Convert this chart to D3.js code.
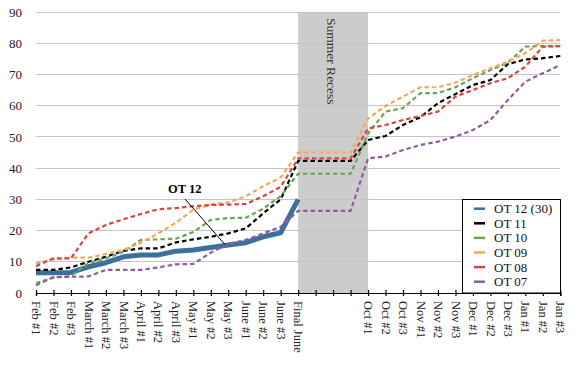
<!DOCTYPE html>
<html>
<head>
<meta charset="utf-8">
<script src="https://cdn.jsdelivr.net/npm/d3@7/dist/d3.min.js"></script>
<style>
  html, body { margin: 0; padding: 0; background: #fff; }
  svg { display: block; font-family: "Liberation Serif", "Times New Roman", serif; }
</style>
</head>
<body>
<svg id="chart" width="580" height="370"></svg>
<script>
// ---- data ----
const categories = ["Feb #1","Feb #2","Feb #3","March #1","March #2","March #3",
  "April #1","April #2","April #3","May #1","May #2","May #3",
  "June #1","June #2","June #3","Final June","","","",
  "Oct #1","Oct #2","Oct #3","Nov #1","Nov #2","Nov #3",
  "Dec #1","Dec #2","Dec #3","Jan #1","Jan #2","Jan #3"];

const ot12 = [6.5,6.5,6.6,8.4,9.7,11.6,12.2,12.2,13.4,13.8,14.6,15.4,16.1,18,19.3,30];
const ot11 = [7.4,7.4,8.2,10,11.6,13.5,14.3,14.3,16.2,17.2,18,19.1,20.7,25.5,30,42.3,42.3,42.3,42.3,
  49,50.3,53.8,56.3,60.8,63.7,66.6,68.2,73.3,74.8,75.2,75.9];
const ot10 = [3.2,4.9,5.4,9.6,11.1,13.2,17,17.2,17.4,19.5,23.4,24,24.1,27,31,38.2,38.2,38.2,38.2,
  51.1,58.1,59.2,64,64,65.9,68.8,71.4,73.8,78.9,79.1,79.1];
const ot09 = [9.5,10.8,11.3,11.3,12.5,13.8,16.1,19.1,22.5,26.7,28.3,29,31,34.2,37,45,45,45,45,
  55.9,59.9,62.9,65.9,65.9,67.4,69.8,72,74.1,76.8,80.8,81];
const ot08 = [8.6,11.1,11.1,19.1,21.8,23.6,25.3,26.8,27.2,27.8,28.2,28.3,28.5,31,34,43.1,43.1,43.1,43.1,
  52.7,53.8,55.4,56.7,58.1,62.9,65,67.2,68.8,72.5,78.9,79.1];
const ot07 = [2.5,5.1,5.2,5.3,7.4,7.4,7.4,8.2,9.2,9.3,12.9,15.7,17,19.1,21.2,26.3,26.3,26.3,26.3,
  43.1,43.7,45.8,47.4,48.5,50.1,52.2,55.4,61.8,67.7,70.4,73];

const seriesNames = ["OT 12 (30)","OT 11","OT 10","OT 09","OT 08","OT 07"];
const seriesColors = ["#3d6f9e","#000000","#6aa457","#f5a857","#d94443","#8c5e9c"];
const yTicks = [0,10,20,30,40,50,60,70,80,90];
const recessStart = "Final June", recessEnd = "Oct #1", recessValue = 90;
const recessLabel = "Summer Recess";
const annotationText = "OT 12", annotationIndex = 11;

// ---- layout ----
const svg = d3.select("#chart");
const plotLeft = 36, plotRight = 560.3, plotTop = 12, plotBottom = 293;

const x = d3.scalePoint().domain(d3.range(categories.length)).range([plotLeft, plotRight]);
const y = d3.scaleLinear().domain([0, 90]).range([plotBottom, plotTop]);

// summer recess band
const i0 = categories.indexOf(recessStart), i1 = categories.indexOf(recessEnd);
svg.append("rect")
  .attr("x", x(i0)).attr("y", y(recessValue))
  .attr("width", x(i1) - x(i0)).attr("height", y(0) - y(recessValue))
  .attr("fill", "#cccccc");

// gridlines
svg.append("g").selectAll("line").data(yTicks.filter(d => d > 0)).join("line")
  .attr("x1", plotLeft).attr("x2", plotRight)
  .attr("y1", d => y(d)).attr("y2", d => y(d))
  .attr("stroke", "#c4c4c4").attr("stroke-width", 1).attr("shape-rendering", "crispEdges");

// recess label
svg.append("text")
  .attr("transform", `translate(${(x(i0) + x(i1)) / 2 - 1},${y(recessValue) + 6}) rotate(90)`)
  .attr("dy", "0.35em")
  .attr("font-size", 13.5).attr("fill", "#333")
  .text(recessLabel);

// y axis labels
const yAxis = d3.axisLeft(y).tickValues(yTicks).tickSize(0).tickPadding(14);
const gy = svg.append("g").attr("transform", `translate(${plotLeft},0)`).call(yAxis);
gy.select(".domain").remove();
gy.selectAll("text").attr("font-family", "Liberation Serif, serif").attr("font-size", 13).attr("fill", "#222");

// x axis
const xAxis = d3.axisBottom(x).tickFormat(i => categories[i]).tickSizeOuter(0).tickSize(3);
const gx = svg.append("g").attr("transform", `translate(0,${plotBottom})`).call(xAxis);
gx.select(".domain").attr("stroke", "#000").attr("stroke-width", 1.2);
gx.selectAll(".tick line").attr("y1", -3).attr("y2", 3).attr("stroke", "#000").attr("stroke-width", 1.2);
gx.selectAll(".tick text")
  .attr("font-family", "Liberation Serif, serif").attr("font-size", 12.5).attr("fill", "#222")
  .attr("x", 8).attr("y", 0).attr("dy", "0.35em")
  .attr("transform", "rotate(90)").style("text-anchor", "start");

// lines
const allSeries = [ot12, ot11, ot10, ot09, ot08, ot07];
const line = d3.line().x((d, i) => x(i)).y(d => y(d));
allSeries.forEach((s, k) => {
  svg.append("path").datum(s)
    .attr("d", line)
    .attr("fill", "none")
    .attr("stroke", seriesColors[k])
    .attr("stroke-width", k === 0 ? 5 : 2.2)
    .attr("stroke-dasharray", k === 0 ? null : "4.5,3")
    .attr("stroke-linejoin", "round");
});

// annotation
svg.append("line")
  .attr("x1", 185).attr("y1", 199)
  .attr("x2", x(annotationIndex) - 3).attr("y2", y(ot12[annotationIndex]))
  .attr("stroke", "#000").attr("stroke-width", 1);
svg.append("text")
  .attr("x", 168).attr("y", 193)
  .attr("font-size", 12.5).attr("font-weight", "bold").attr("fill", "#000")
  .text(annotationText);

// legend
const lg = svg.append("g");
lg.append("rect").attr("x", 462.5).attr("y", 199.5).attr("width", 98).attr("height", 93.5)
  .attr("fill", "#fff").attr("stroke", "#000").attr("stroke-width", 1);
seriesNames.forEach((n, k) => {
  const cy = 208.7 + k * 14.6;
  lg.append("line").attr("x1", 474).attr("x2", 485).attr("y1", cy).attr("y2", cy)
    .attr("stroke", seriesColors[k]).attr("stroke-width", 2.5);
  lg.append("text").attr("x", 494).attr("y", cy).attr("dy", "0.35em")
    .attr("font-size", 13).attr("fill", "#111").text(n);
});
</script>
</body>
</html>
